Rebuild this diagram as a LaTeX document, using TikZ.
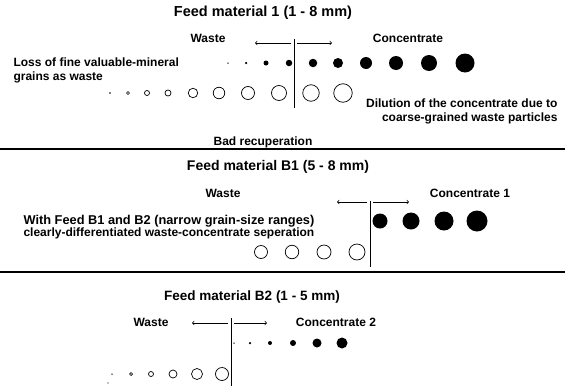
\documentclass[tikz,border=0pt]{standalone}
\usepackage{fontspec}
\setmainfont{Liberation Sans}
\usetikzlibrary{positioning}

\tikzset{
  fullgrain/.style={circle, fill=black, inner sep=0pt, minimum size=#1},
  emptygrain/.style={circle, draw=black, line width=0.7pt, inner sep=0pt, minimum size=#1},
  heading/.style={font=\bfseries\fontsize{14.5}{16}\selectfont},
  side/.style={font=\bfseries\fontsize{12}{14}\selectfont},
  remark/.style={font=\bfseries\fontsize{12}{14}\selectfont},
  cut/.style={line width=0.8pt},
  split/.style={line width=0.7pt, ->},
  rule/.style={line width=1.2pt}
}

\begin{document}
\begin{tikzpicture}[x=1pt, y=-1pt]
  \useasboundingbox (0,0) rectangle (565,386);

  % Feed material 1
  \node[heading] (t1) at (263,13) {Feed material 1 (1 - 8 mm)};
  \node[side] (w1) at (208,38) {Waste};
  \node[side] (c1) at (408,38) {Concentrate};
  \coordinate (s1top) at (294,39);
  \coordinate (s1bot) at (294,108);
  \coordinate (a1w) at (255,43);
  \coordinate (a1c) at (332,43);
  \draw[cut] (s1top) -- (s1bot);
  \draw[split] ([xshift=-3pt]s1top |- a1w) -- (a1w);
  \draw[split] ([xshift=3pt]s1top |- a1c) -- (a1c);
  \foreach \xx/\d [count=\i] in {228/1.5, 246/2.5, 266/5, 289/6.5, 313/8.5,
      338/10, 366/12, 396/14, 429/16, 465/19}
    \node[fullgrain=\d pt] (f1-\i) at (\xx,63) {};
  \node[fullgrain=1.8pt] (e1-1) at (110,93) {};
  \foreach \xx/\d [count=\i from 2] in {128/3, 147/5, 168/6, 193/9.5, 219/11.5,
      248/13, 279/15, 311/16.5, 343/18.5}
    \node[emptygrain=\d pt] (e1-\i) at (\xx,93) {};
  \node[remark, anchor=west, align=left] (loss) at (10,70)
    {Loss of fine valuable-mineral\\grains as waste};
  \node[remark, anchor=east, align=right] (dil) at (561,111)
    {Dilution of the concentrate due to\\coarse-grained waste particles};
  \node[font=\bfseries\fontsize{12}{14}\selectfont] (bad) at (263,142) {Bad recuperation};
  \coordinate (r1l) at (0,149);
  \coordinate (r1r) at (565,149);
  \draw[rule] (r1l) -- (r1r);

  % Feed material B1
  \node[heading, font=\bfseries\fontsize{14}{16}\selectfont] (t2) at (278,167) {Feed material B1 (5 - 8 mm)};
  \node[side] (w2) at (223,193) {Waste};
  \node[side] (c2) at (470,193) {Concentrate 1};
  \coordinate (s2top) at (370,201);
  \coordinate (s2bot) at (370,267);
  \coordinate (a2w) at (337,202);
  \coordinate (a2c) at (409,202);
  \draw[cut] (s2top) -- (s2bot);
  \draw[split] ([xshift=-3pt]s2top |- a2w) -- (a2w);
  \draw[split] ([xshift=3pt]s2top |- a2c) -- (a2c);
  \foreach \xx/\d [count=\i] in {380/15, 411/17, 444/19, 477/21}
    \node[fullgrain=\d pt] (f2-\i) at (\xx,221) {};
  \foreach \xx/\d [count=\i] in {261/13, 292/13.5, 324/14, 357/16}
    \node[emptygrain=\d pt] (e2-\i) at (\xx,252) {};
  \node[anchor=west, align=left] (narrow) at (20,227)
    {{\bfseries\fontsize{12.8}{15}\selectfont With Feed B1 and B2 (narrow grain-size ranges)}\\
     {\bfseries\fontsize{12}{14}\selectfont clearly-differentiated waste-concentrate seperation}};
  \coordinate (r2l) at (0,272);
  \coordinate (r2r) at (565,272);
  \draw[rule] (r2l) -- (r2r);

  % Feed material B2
  \node[heading, font=\bfseries\fontsize{13.5}{15}\selectfont] (t3) at (252,297) {Feed material B2 (1 - 5 mm)};
  \node[side] (w3) at (151,322) {Waste};
  \node[side] (c3) at (336,322) {Concentrate 2};
  \coordinate (s3top) at (231,318);
  \coordinate (s3bot) at (231,386);
  \coordinate (a3w) at (192,323);
  \coordinate (a3c) at (267,323);
  \draw[cut] (s3top) -- (s3bot);
  \draw[split] ([xshift=-3pt]s3top |- a3w) -- (a3w);
  \draw[split] ([xshift=3pt]s3top |- a3c) -- (a3c);
  \foreach \xx/\d [count=\i] in {234/1.5, 250/2.5, 270/4, 293/6, 317/9, 342/11}
    \node[fullgrain=\d pt] (f3-\i) at (\xx,343) {};
  \node[fullgrain=1.5pt] (e3-1) at (112,374) {};
  \foreach \xx/\d [count=\i from 2] in {131/3, 151/5, 173/8, 197/11, 222/13}
    \node[emptygrain=\d pt] (e3-\i) at (\xx,374) {};
  \node[fullgrain=1.2pt] (dust) at (108,383) {};
\end{tikzpicture}
\end{document}
